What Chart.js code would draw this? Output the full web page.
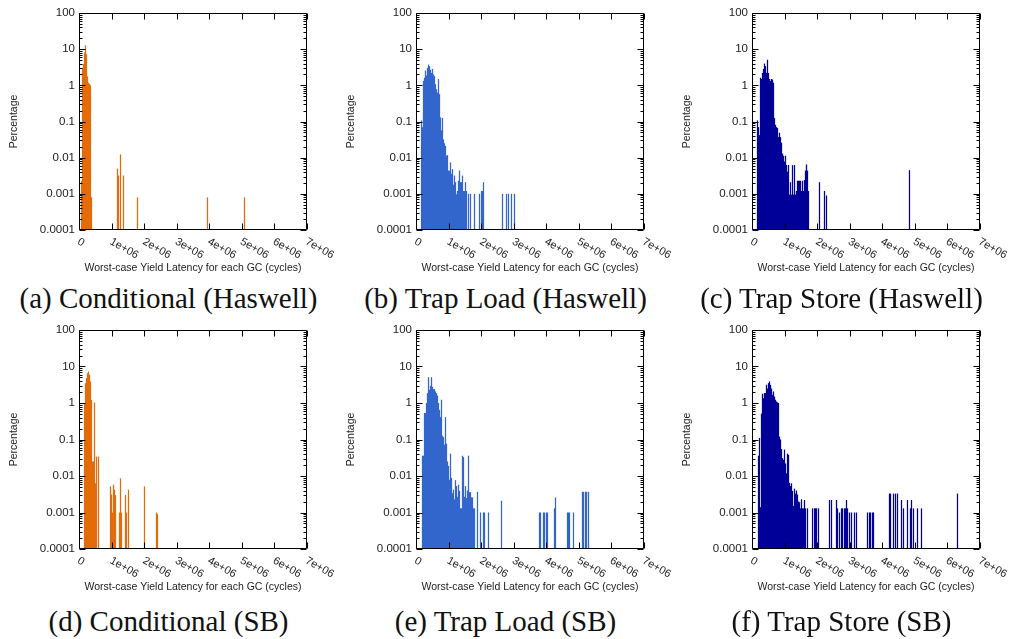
<!DOCTYPE html>
<html>
<head>
<meta charset="utf-8">
<script src="https://cdn.jsdelivr.net/npm/chart.js@4.4.1/dist/chart.umd.min.js"></script>
<style>
body { margin: 0; background: #fff; }
#pagina { position: relative; width: 1014px; height: 639px; overflow: hidden; }
.painel { position: absolute; }
.legenda { position: absolute; width: 337px; text-align: center; font-family: "Liberation Serif", "Times New Roman", serif; font-size: 29px; line-height: 32px; color: #111; }
</style>
</head>
<body>
<div id="pagina"></div>
<script>
// cycles per histogram bin (one pixel of the original plot)
const BIN = 30700;

const yTicks = [0.0001, 0.001, 0.01, 0.1, 1, 10, 100];
const xTicks = [0, 1e6, 2e6, 3e6, 4e6, 5e6, 6e6, 7e6];
const xTickLabels = ['0', '1e+06', '2e+06', '3e+06', '4e+06', '5e+06', '6e+06', '7e+06'];

const legendas = ['(a) Conditional (Haswell)', '(b) Trap Load (Haswell)', '(c) Trap Store (Haswell)',
                  '(d) Conditional (SB)', '(e) Trap Load (SB)', '(f) Trap Store (SB)'];
const cores = ['#e36c0a', '#3366cc', '#000099', '#e36c0a', '#3366cc', '#000099'];

// ---- (a) Conditional (Haswell) ----
const condHswStart = 2;
const condHswDense = [0.0023, 3.0, 3.9, 8.1, 12.8, 7.3, 1.76, 1.18, 1.1, 1.0, 0.0008];
const condHswOutBins = [38, 39, 41, 44, 58, 128, 165];
const condHswOutPct = [0.005, 0.0032, 0.0123, 0.0032, 0.0008, 0.0008, 0.0008];

// ---- (b) Trap Load (Haswell) ----
const loadHswStart = 5;
const loadHswDense = [0.107, 0.07, 1.32, 1.62, 2.56, 1.87, 3.0, 3.74, 3.4, 2.7, 2.2, 2.85, 2.0, 1.8, 1.07, 0.78,
    0.63, 1.5, 0.57, 0.13, 0.057, 0.126, 0.032, 0.025, 0.021, 0.0113, 0.0118, 0.0044, 0.0044, 0.0074, 0.0036,
    0.0048, 0.0018, 0.0032, 0.0021, 0.00097, 0.0012, 0.0023, 0.0044, 0.0021, 0.0021, 0.0032, 0.0012, 0.0012,
    0.0021, 0.0012];
const loadHswOutBins = [52, 54, 58, 63, 65, 66, 67, 86, 90, 92, 95, 98];
const loadHswOutPct = [0.001, 0.001, 0.001, 0.001, 0.0012, 0.0012, 0.0021, 0.001, 0.001, 0.001, 0.001, 0.001];

// ---- (c) Trap Store (Haswell) ----
const storeHswStart = 5;
const storeHswDense = [0.107, 0.07, 0.042, 1.62, 1.5, 2.2, 2.85, 4.0, 3.4, 2.2, 5.1, 2.2, 1.5, 1.32, 1.5, 1.45,
    1.18, 0.126, 0.081, 0.07, 0.066, 0.037, 0.049, 0.037, 0.026, 0.013, 0.0113, 0.0078, 0.0113, 0.0063, 0.0041,
    0.0063, 0.00095, 0.0021, 0.00095, 0.0062, 0.00095, 0.0063, 0.00095, 0.0012, 0.0023, 0.0023, 0.0023, 0.0023,
    0.0012, 0.0023, 0.0012, 0.0024, 0.0044, 0.0065, 0.0044, 0.0012];
const storeHswOutBins = [67, 72, 74, 157];
const storeHswOutPct = [0.0021, 0.0012, 0.0009, 0.0045];

// ---- (d) Conditional (SB) ----
const condSbStart = 5;
const condSbDense = [1.0, 3.5, 4.8, 6.5, 7.3, 5.9, 3.9, 1.2, 0.025, 0.025, 1.03, 0.0063, 0.034];
const condSbOutBins = [19, 31, 32, 33, 34, 35, 36, 40, 41, 42, 46, 47, 49, 65, 77, 78];
const condSbOutPct = [0.034, 0.0052, 0.0031, 0.001, 0.0058, 0.0042, 0.003, 0.001, 0.0087, 0.001, 0.003, 0.001,
    0.0042, 0.0052, 0.001, 0.0009];

// ---- (e) Trap Load (SB) ----
const loadSbStart = 6;
const loadSbDense = [0.036, 0.036, 0.53, 0.53, 1.0, 1.87, 5.1, 2.3, 2.96, 5.1, 2.8, 2.4, 2.4, 2.07, 1.87, 1.6,
    1.0, 0.65, 0.41, 1.23, 0.127, 0.116, 0.072, 0.41, 0.077, 0.025, 0.019, 0.0079, 0.041, 0.0089, 0.0034, 0.0042,
    0.0023, 0.0077, 0.0053, 0.0027, 0.0058, 0.0039, 0.0013, 0.0013, 0.036, 0.033, 0.0027, 0.0053, 0.0025, 0.004,
    0.036, 0.0036, 0.0036, 0.0026, 0.0026, 0.0013, 0.0013];
const loadSbOutBins = [61, 64, 67, 68, 72, 85, 123, 124, 127, 128, 130, 131, 138, 139, 151, 152, 153, 157,
    166, 167, 169, 170, 172];
const loadSbOutPct = [0.0037, 0.001, 0.001, 0.001, 0.001, 0.0021, 0.001, 0.001, 0.001, 0.001, 0.001, 0.001,
    0.0013, 0.0026, 0.001, 0.001, 0.001, 0.001, 0.0037, 0.0037, 0.0037, 0.0037, 0.0037];

// ---- (f) Trap Store (SB) ----
const storeSbStart = 6;
const storeSbDense = [0.036, 0.11, 0.0014, 0.51, 1.8, 1.36, 1.87, 1.87, 3.15, 2.5, 3.5, 3.9, 3.15, 2.5, 1.68,
    2.07, 1.5, 1.23, 1.1, 1.04, 1.0, 0.12, 0.1, 0.055, 0.031, 0.028, 0.053, 0.022, 0.0118, 0.041, 0.038, 0.0065,
    0.0053, 0.0063, 0.0039, 0.0015, 0.0045, 0.0033, 0.004, 0.0031, 0.002, 0.0019, 0.0013, 0.0023, 0.0013, 0.0013];
const storeSbOutBins = [52, 53, 55, 60, 62, 63, 64, 66, 77, 79, 84, 85, 87, 89, 90, 92, 93, 94, 95, 97, 99, 102,
    104, 115, 117, 118, 120, 121, 137, 138, 141, 143, 145, 149, 151, 155, 158, 159, 161, 165, 169, 205];
const storeSbOutPct = [0.0022, 0.0013, 0.0013, 0.0013, 0.0013, 0.0013, 0.0013, 0.0013,
    0.0022, 0.0022, 0.0022, 0.0013, 0.001, 0.0013, 0.0013, 0.0013, 0.0013, 0.0022, 0.0013, 0.001, 0.001, 0.001, 0.001,
    0.001, 0.001, 0.001, 0.001, 0.001,
    0.0033, 0.0033, 0.0033, 0.0033, 0.0033,
    0.0022, 0.0013, 0.0022, 0.0013, 0.0022, 0.0013, 0.0013, 0.0013, 0.0033];

const paineis = [
    [condHswStart, condHswDense, condHswOutBins, condHswOutPct],
    [loadHswStart, loadHswDense, loadHswOutBins, loadHswOutPct],
    [storeHswStart, storeHswDense, storeHswOutBins, storeHswOutPct],
    [condSbStart, condSbDense, condSbOutBins, condSbOutPct],
    [loadSbStart, loadSbDense, loadSbOutBins, loadSbOutPct],
    [storeSbStart, storeSbDense, storeSbOutBins, storeSbOutPct]
];

const esquerdas = [0, 337, 673];
const topos = [0, 319];
const FONTE = '"Liberation Sans", Arial, sans-serif';
Chart.defaults.font.family = FONTE;
Chart.defaults.color = '#222';

function montarPontos(start, dense, outBins, outPct) {
    const pts = dense.map((v, i) => ({ x: (start + i + 0.5) * BIN, y: v }));
    outBins.forEach((b, i) => pts.push({ x: (b + 0.5) * BIN, y: outPct[i] }));
    return pts;
}

// box, inward ticks (gnuplot style) and slanted x labels
const molduraPlugin = {
    id: 'moldura',
    afterDraw(chart) {
        const { ctx, chartArea: a, scales: { x, y } } = chart;
        const L = Math.round(a.left) + 0.5, R = Math.round(a.right) - 0.5;
        const T = Math.round(a.top) + 0.5, B = Math.round(a.bottom) - 0.5;
        ctx.save();
        ctx.strokeStyle = '#000';
        ctx.lineWidth = 1;
        ctx.beginPath();
        ctx.rect(L, T, R - L, B - T);
        yTicks.forEach((d, k) => {
            const py = Math.round(y.getPixelForValue(d)) + 0.5;
            ctx.moveTo(L, py); ctx.lineTo(L + 6, py);
            ctx.moveTo(R, py); ctx.lineTo(R - 6, py);
            if (k < yTicks.length - 1) {
                for (let m = 2; m <= 9; m++) {
                    const pm = Math.round(y.getPixelForValue(d * m)) + 0.5;
                    ctx.moveTo(L, pm); ctx.lineTo(L + 3, pm);
                    ctx.moveTo(R, pm); ctx.lineTo(R - 3, pm);
                }
            }
        });
        xTicks.forEach(v => {
            const px = Math.round(x.getPixelForValue(v)) + 0.5;
            ctx.moveTo(px, B); ctx.lineTo(px, B - 6);
            ctx.moveTo(px, T); ctx.lineTo(px, T + 6);
        });
        ctx.stroke();

        ctx.fillStyle = '#222';
        ctx.font = '11px ' + FONTE;
        ctx.textAlign = 'left';
        ctx.textBaseline = 'top';
        xTicks.forEach((v, i) => {
            ctx.save();
            ctx.translate(x.getPixelForValue(v) + 2, a.bottom + 6);
            ctx.rotate(Math.PI / 6);
            ctx.fillText(xTickLabels[i], 0, 0);
            ctx.restore();
        });
        ctx.restore();
    }
};

const pagina = document.getElementById('pagina');

paineis.forEach((p, n) => {
    const col = n % 3, lin = Math.floor(n / 3);
    const canvas = document.createElement('canvas');
    canvas.className = 'painel';
    canvas.width = 337;
    canvas.height = 274;
    canvas.style.left = esquerdas[col] + 'px';
    canvas.style.top = topos[lin] + 'px';
    pagina.appendChild(canvas);

    const cap = document.createElement('div');
    cap.className = 'legenda';
    cap.textContent = legendas[n];
    cap.style.left = esquerdas[col] + 'px';
    cap.style.top = (topos[lin] + (lin === 0 ? 282 : 286)) + 'px';
    pagina.appendChild(cap);

    new Chart(canvas, {
        type: 'bar',
        data: {
            datasets: [{
                data: montarPontos(p[0], p[1], p[2], p[3]),
                backgroundColor: cores[n],
                borderWidth: 0,
                barPercentage: 1.25,
                categoryPercentage: 1
            }]
        },
        options: {
            responsive: false,
            animation: false,
            devicePixelRatio: 1,
            layout: { padding: { top: lin === 0 ? 13 : 11, right: 30, left: 0, bottom: 0 } },
            plugins: { legend: { display: false }, tooltip: { enabled: false } },
            scales: {
                x: {
                    type: 'linear', min: 0, max: 7e6, offset: false,
                    afterFit: s => { s.height = 44; },
                    ticks: { display: false },
                    grid: { display: false, drawTicks: false },
                    border: { display: false },
                    title: { display: true, text: 'Worst-case Yield Latency for each GC (cycles)',
                             font: { size: 10.5 }, padding: 0 }
                },
                y: {
                    type: 'logarithmic', min: 0.0001, max: 100,
                    afterBuildTicks: s => { s.ticks = yTicks.map(v => ({ value: v })); },
                    afterFit: s => { s.width = 79; },
                    ticks: { padding: 4, font: { size: 11.5 }, callback: v => String(v) },
                    grid: { display: false, drawTicks: false },
                    border: { display: false },
                    title: { display: true, text: 'Percentage', font: { size: 10.5 },
                             padding: { top: 8, bottom: 0 } }
                }
            }
        },
        plugins: [molduraPlugin]
    });
});
</script>
</body>
</html>
